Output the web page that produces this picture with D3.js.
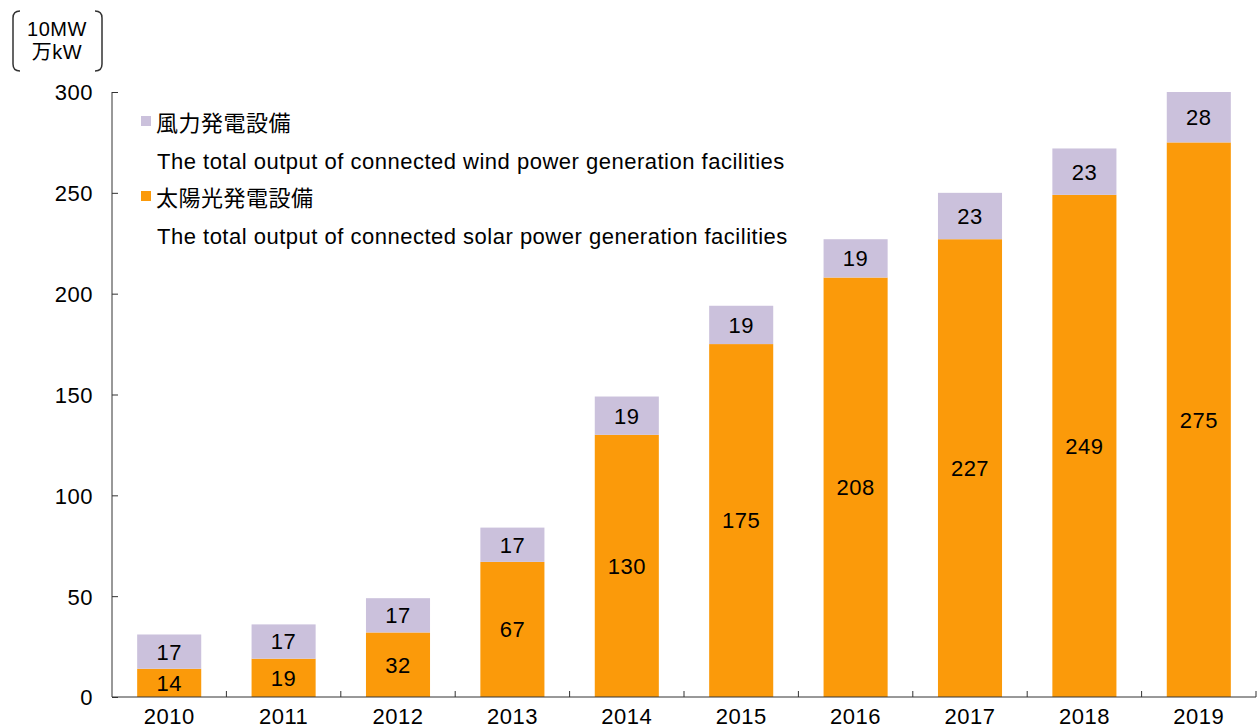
<!DOCTYPE html>
<html>
<head>
<meta charset="utf-8">
<script src="https://cdn.jsdelivr.net/npm/d3@7"></script>
<style>
  body { margin: 0; background: #fff; }
  text { font-family: "Liberation Sans", Arial, "Noto Sans CJK JP", sans-serif; fill: #000; letter-spacing: 0.5px; }
</style>
</head>
<body>
<div class="home"></div>
<script>
// chart data
const years = ["2010", "2011", "2012", "2013", "2014", "2015", "2016", "2017", "2018", "2019"];
const solar = [14, 19, 32, 67, 130, 175, 208, 227, 249, 275];
const wind = [17, 17, 17, 17, 19, 19, 19, 23, 23, 28];
const yTicks = [0, 50, 100, 150, 200, 250, 300];
const unitLines = ["10MW", "万kW"];
const legendItems = [
  { jp: "風力発電設備", en: "The total output of connected wind power generation facilities", color: "#cbc1dc" },
  { jp: "太陽光発電設備", en: "The total output of connected solar power generation facilities", color: "#fb9a0a" }
];

const width = 1257;
const height = 727;
const plotLeft = 112, plotRight = 1256, plotTop = 92, plotBottom = 697;
const fontSize = "22px";

const svg = d3.select(".home").append("svg")
  .attr("width", width)
  .attr("height", height);

const x = d3.scaleBand()
  .domain(years)
  .range([plotLeft, plotRight])
  .paddingInner(0.44)
  .paddingOuter(0.22);

// the top bar runs past 300 in the data, the original just stops at the frame
const y = d3.scaleLinear()
  .domain([0, 300])
  .range([plotBottom, plotTop])
  .clamp(true);

const stacked = years.map((yr, i) => ({ year: yr, solar: solar[i], wind: wind[i] }));

// solar segments
svg.selectAll(".solar")
  .data(stacked)
  .enter()
  .append("rect")
  .attr("class", "solar")
  .attr("x", d => x(d.year))
  .attr("width", x.bandwidth())
  .attr("y", d => y(d.solar))
  .attr("height", d => y(0) - y(d.solar))
  .style("fill", legendItems[1].color);

// wind segments on top
svg.selectAll(".wind")
  .data(stacked)
  .enter()
  .append("rect")
  .attr("class", "wind")
  .attr("x", d => x(d.year))
  .attr("width", x.bandwidth())
  .attr("y", d => y(d.solar + d.wind))
  .attr("height", d => y(d.solar) - y(d.solar + d.wind))
  .style("fill", legendItems[0].color);

// value labels, centered in each segment
svg.selectAll(".solarLabel")
  .data(stacked)
  .enter()
  .append("text")
  .attr("x", d => x(d.year) + x.bandwidth() / 2)
  .attr("y", d => (y(0) + y(d.solar)) / 2)
  .attr("dy", "0.36em")
  .style("text-anchor", "middle")
  .style("font-size", fontSize)
  .text(d => d.solar);

svg.selectAll(".windLabel")
  .data(stacked)
  .enter()
  .append("text")
  .attr("x", d => x(d.year) + x.bandwidth() / 2)
  .attr("y", d => (y(d.solar) + y(d.solar + d.wind)) / 2)
  .attr("dy", "0.36em")
  .style("text-anchor", "middle")
  .style("font-size", fontSize)
  .text(d => d.wind);

// y axis, ticks pointing inward
const yAxis = svg.append("g")
  .attr("transform", "translate(" + plotLeft + ",0)")
  .call(d3.axisRight(y).tickValues(yTicks).tickSize(6).tickFormat(d3.format("d")));
yAxis.select(".domain").attr("d", "M0," + plotTop + "V" + plotBottom).attr("stroke", "#333");
yAxis.selectAll(".tick line").attr("stroke", "#333");
yAxis.selectAll(".tick text")
  .attr("x", -19)
  .attr("dy", "0.36em")
  .style("text-anchor", "end")
  .style("font-size", fontSize)
  .style("font-family", "'Liberation Sans', Arial, sans-serif")
  .attr("fill", "#000");

// x axis: baseline with small upward ticks between categories
const xAxis = svg.append("g");
xAxis.append("line")
  .attr("x1", plotLeft).attr("x2", plotRight)
  .attr("y1", plotBottom).attr("y2", plotBottom)
  .attr("stroke", "#333");
const step = x.step();
xAxis.selectAll(".sep")
  .data(years)
  .enter()
  .append("line")
  .attr("x1", (d, i) => plotLeft + step * (i + 1))
  .attr("x2", (d, i) => plotLeft + step * (i + 1))
  .attr("y1", plotBottom)
  .attr("y2", plotBottom - 6)
  .attr("stroke", "#333");
xAxis.selectAll(".xlab")
  .data(years)
  .enter()
  .append("text")
  .attr("x", d => x(d) + x.bandwidth() / 2)
  .attr("y", 724)
  .style("text-anchor", "middle")
  .style("font-size", fontSize)
  .text(d => d);

// legend
const legend = svg.append("g").attr("transform", "translate(141,0)");
legendItems.forEach((item, i) => {
  const y0 = 123 + i * 75;
  legend.append("rect")
    .attr("x", 0).attr("y", y0 - 7)
    .attr("width", 10).attr("height", 10)
    .style("fill", item.color);
  legend.append("text")
    .attr("x", 15).attr("y", y0)
    .attr("dy", "0.36em")
    .style("font-size", fontSize)
    .text(item.jp);
  legend.append("text")
    .attr("x", 16).attr("y", y0 + 38)
    .attr("dy", "0.36em")
    .style("font-size", fontSize)
    .text(item.en);
});

// unit label with round brackets
const unit = svg.append("g");
unit.selectAll("text")
  .data(unitLines)
  .enter()
  .append("text")
  .attr("x", 57)
  .attr("y", (d, i) => 29 + i * 23)
  .attr("dy", "0.36em")
  .style("text-anchor", "middle")
  .style("font-size", "20px")
  .text(d => d);
unit.append("path")
  .attr("d", "M20,11 Q13,11 13,18 V64 Q13,71 20,71")
  .attr("fill", "none").attr("stroke", "#333").attr("stroke-width", 1.5);
unit.append("path")
  .attr("d", "M95,11 Q102,11 102,18 V64 Q102,71 95,71")
  .attr("fill", "none").attr("stroke", "#333").attr("stroke-width", 1.5);
</script>
</body>
</html>
